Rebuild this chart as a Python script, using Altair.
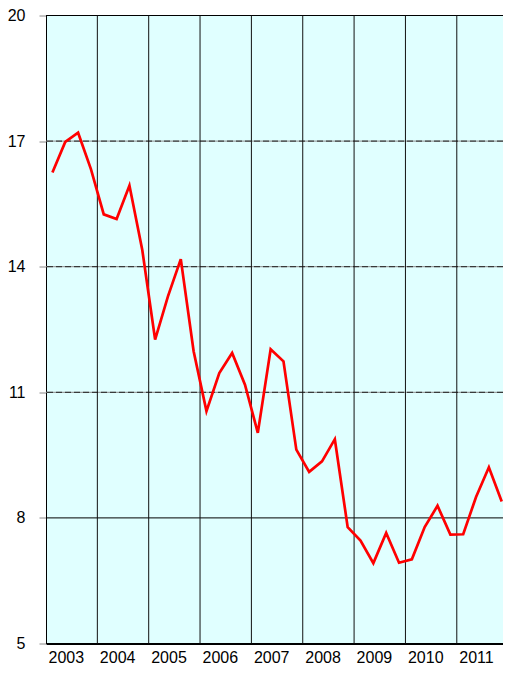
import altair as alt
import pandas as pd

years = [2003, 2004, 2005, 2006, 2007, 2008, 2009, 2010, 2011]
quarterly_values = [
    [16.25, 16.98, 17.20, 16.33],
    [15.25, 15.14, 15.94, 14.40],
    [12.26, 13.29, 14.18, 11.98],
    [10.55, 11.46, 11.94, 11.18],
    [10.03, 12.03, 11.74, 9.63],
    [9.10, 9.35, 9.88, 7.78],
    [7.46, 6.92, 7.64, 6.93],
    [7.01, 7.78, 8.29, 7.60],
    [7.61, 8.50, 9.21, 8.39],
]
y_ticks = [5, 8, 11, 14, 17, 20]
dashed_levels = [11, 14, 17]
solid_levels = [8, 20]
year_lines = [2004, 2005, 2006, 2007, 2008, 2009, 2010, 2011]

rows = []
for yr, vals in zip(years, quarterly_values):
    for q, v in enumerate(vals):
        rows.append({"t": yr + (q + 0.5) / 4, "v": v})
df = pd.DataFrame(rows)

xscale = alt.Scale(domain=[2003, 2011.9], nice=False, zero=False)
yscale = alt.Scale(domain=[5, 20], nice=False, zero=False)

xaxis = alt.Axis(
    title=None,
    values=years,
    format="d",
    grid=False,
    ticks=False,
    domainColor="#000000",
    domainWidth=2,
    labelAlign="left",
    labelOffset=2,
    labelPadding=5.5,
    labelFontSize=16,
    labelFont="Liberation Sans",
    labelColor="#000000",
    labelFlush=False,
    labelOverlap=False,
)
yaxis = alt.Axis(
    title=None,
    values=y_ticks,
    grid=False,
    tickSize=7,
    tickColor="#888888",
    domainColor="#000000",
    domainWidth=1,
    labelPadding=14,
    labelFontSize=16,
    labelFont="Liberation Sans",
    labelColor="#000000",
    labelFlush=False,
    labelOverlap=False,
)

dash_df = pd.DataFrame({"v": dashed_levels})
solid_df = pd.DataFrame({"v": solid_levels})
vline_df = pd.DataFrame({"t": year_lines})

line = alt.Chart(df).mark_line(color="#FF0000", strokeWidth=2.7, strokeJoin="miter").encode(
    x=alt.X("t:Q", scale=xscale, axis=xaxis),
    y=alt.Y("v:Q", scale=yscale, axis=yaxis),
)
dash_under = alt.Chart(dash_df).mark_rule(color="#8a8a8a", strokeWidth=1).encode(
    y=alt.Y("v:Q", scale=yscale, axis=yaxis)
)
dash_over = alt.Chart(dash_df).mark_rule(color="#222222", strokeWidth=1, strokeDash=[6, 3]).encode(
    y=alt.Y("v:Q", scale=yscale, axis=yaxis)
)
solid = alt.Chart(solid_df).mark_rule(color="#000000", strokeWidth=1).encode(
    y=alt.Y("v:Q", scale=yscale, axis=yaxis)
)
vlines = alt.Chart(vline_df).mark_rule(color="#111111", strokeWidth=1).encode(
    x=alt.X("t:Q", scale=xscale, axis=xaxis)
)

chart = (
    alt.layer(dash_under, dash_over, solid, vlines, line)
    .properties(
        width=457,
        height=628,
        padding={"left": 38, "top": 7.5, "right": 0, "bottom": 23.5},
        autosize=alt.AutoSizeParams(type="none"),
        background="#ffffff",
    )
    .configure_view(fill="#E0FFFF", stroke="transparent")
)

chart.save("out.html", embed_options={"renderer": "svg", "actions": False})
